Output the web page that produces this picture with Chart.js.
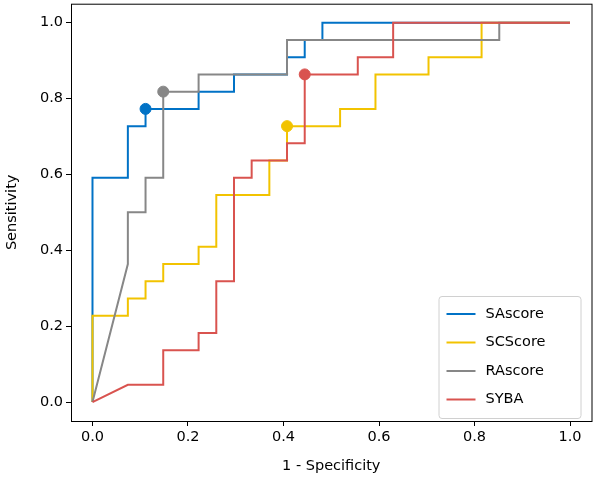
<!DOCTYPE html>
<html><head><meta charset="utf-8">
<script src="https://cdn.jsdelivr.net/npm/chart.js@4"></script>
<style>html,body{margin:0;padding:0;background:#fff;overflow:hidden}#w{width:598px;height:487px;margin-top:-8px}</style>
</head><body><div id="w"><canvas id="c"></canvas></div>
<script>
const N = 27, P = 22;
const seriesNames = ["SAscore","SCScore","RAscore","SYBA"];
const colors = ["#0072c6","#f2c300","#878787","#d9534f"];
// [false positives /27, true positives /22]
const SAscore = [[0,0],[0,13],[2,13],[2,16],[3,16],[3,17],[6,17],[6,18],[8,18],[8,19],[11,19],[11,20],[12,20],[12,21],[13,21],[13,22],[27,22]];
const SCScore = [[0,0],[0,5],[2,5],[2,6],[3,6],[3,7],[4,7],[4,8],[6,8],[6,9],[7,9],[7,12],[10,12],[10,14],[11,14],[11,16],[14,16],[14,17],[16,17],[16,19],[19,19],[19,20],[22,20],[22,22],[27,22]];
const RAscore = [[0,0],[2,8],[2,11],[3,11],[3,13],[4,13],[4,18],[6,18],[6,19],[11,19],[11,21],[23,21],[23,22],[27,22]];
const SYBA = [[0,0],[2,1],[4,1],[4,3],[6,3],[6,4],[7,4],[7,7],[8,7],[8,13],[9,13],[9,14],[11,14],[11,15],[12,15],[12,19],[15,19],[15,20],[17,20],[17,22],[27,22]];
const optimal = [[3,17],[11,16],[4,18],[12,19]];
const xTicks = [0,0.2,0.4,0.6,0.8,1.0];
const yTicks = [0,0.2,0.4,0.6,0.8,1.0];

const curves = [SAscore,SCScore,RAscore,SYBA];
const toXY = a => a.map(p => ({x:p[0]/N, y:p[1]/P}));
const datasets = curves.map((c,i)=>({label:seriesNames[i],data:toXY(c),borderColor:colors[i],borderWidth:2,pointRadius:0,fill:false,tension:0,order:5-i}));
optimal.forEach((p,i)=>datasets.push({label:'_dot'+i,data:toXY([p]),showLine:false,pointRadius:5.5,pointBackgroundColor:colors[i],pointBorderColor:colors[i],order:1}));

const font = {family:'DejaVu Sans', size:14.5};
const legendPlugin = {id:'lg',afterDraw(ch){
  const ctx=ch.ctx, ca=ch.chartArea;
  const w=142,h=122,x=ca.right-w-11,y=ca.bottom-h-3;
  ctx.save();
  ctx.fillStyle='rgba(255,255,255,0.9)';ctx.strokeStyle='#d0d0d0';ctx.lineWidth=1;
  ctx.beginPath();ctx.roundRect(x+0.5,y+0.5,w,h,3);ctx.fill();ctx.stroke();
  ctx.font='14.5px DejaVu Sans';ctx.textBaseline='middle';
  seriesNames.forEach((n,i)=>{const yy=y+18+i*28.5;
    ctx.strokeStyle=colors[i];ctx.lineWidth=2;ctx.beginPath();ctx.moveTo(x+8,yy);ctx.lineTo(x+37,yy);ctx.stroke();
    ctx.fillStyle='#000';ctx.fillText(n,x+47,yy);});
  ctx.restore();
}};
const frame = {id:'fr',afterDraw(ch){const ctx=ch.ctx,a=ch.chartArea;ctx.save();ctx.strokeStyle='#000';ctx.lineWidth=1;ctx.strokeRect(a.left+0.5,a.top+0.5,a.right-a.left,a.bottom-a.top);ctx.restore();}};

new Chart(document.getElementById('c'),{
  type:'line',
  data:{datasets},
  options:{responsive:true,maintainAspectRatio:false,animation:false,
    layout:{padding:{top:0,right:3,left:0,bottom:0}},
    plugins:{legend:{display:false},tooltip:{enabled:false}},
    scales:{
      x:{type:'linear',min:-0.045,max:1.045,
        afterBuildTicks:s=>{s.ticks=xTicks.map(v=>({value:v}));},
        afterFit:s=>{s.height=58;},
        grid:{display:true,drawOnChartArea:false,drawTicks:true,tickLength:5,tickColor:'#000'},border:{display:false},
        ticks:{color:'#000',font,padding:3,callback:v=>v.toFixed(1),maxRotation:0},
        title:{display:true,text:'1 - Specificity',color:'#000',font,padding:{top:1}}},
      y:{type:'linear',min:-0.05,max:1.05,
        afterBuildTicks:s=>{s.ticks=yTicks.map(v=>({value:v}));},
        afterFit:s=>{s.width=71;},
        grid:{display:true,drawOnChartArea:false,drawTicks:true,tickLength:5,tickColor:'#000'},border:{display:false},
        ticks:{color:'#000',font,padding:3,callback:v=>v.toFixed(1)},
        title:{display:true,text:'Sensitivity',color:'#000',font,padding:{bottom:0}}}
    }},
  plugins:[legendPlugin,frame]
});
</script></body></html>
